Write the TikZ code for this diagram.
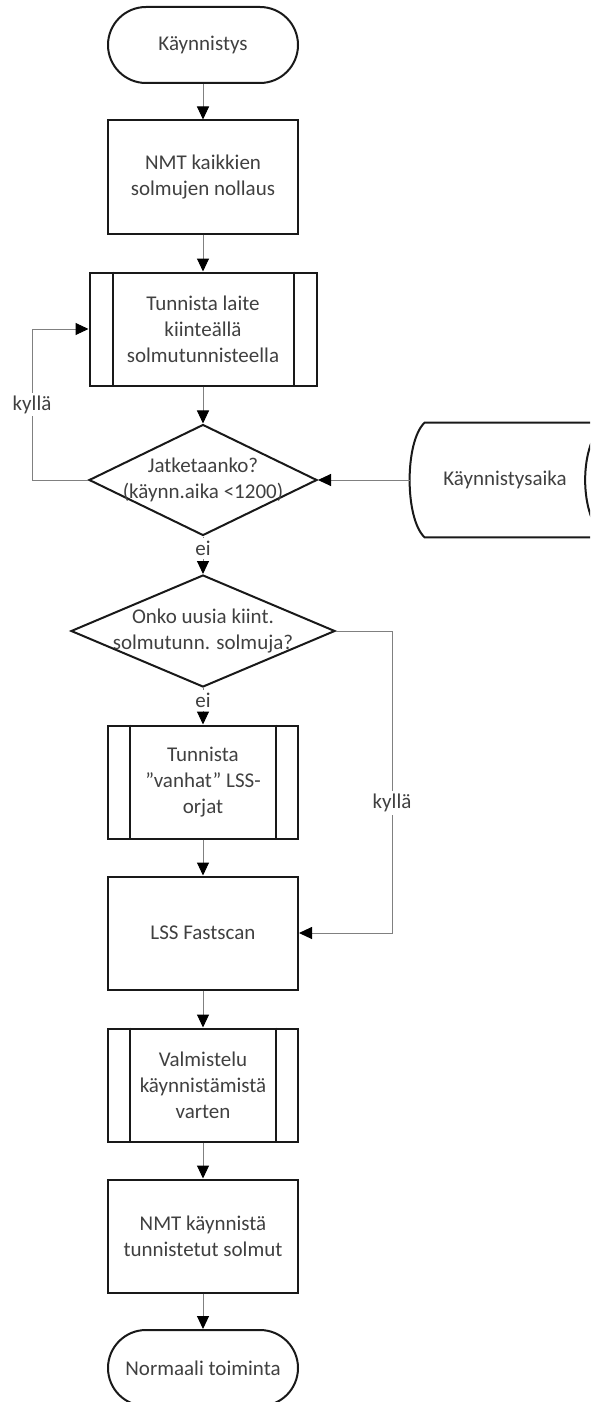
\documentclass[tikz,border=0pt]{standalone}
\usepackage{fontspec}
\setmainfont{Carlito}
\usetikzlibrary{shapes.geometric, arrows.meta, calc}
\definecolor{linegray}{rgb}{0.5,0.5,0.5}
\definecolor{textgray}{rgb}{0.25,0.25,0.25}

\tikzset{
  base/.style={draw=black!90, line width=1pt, align=center, inner sep=2pt},
  term/.style={base, rectangle, rounded corners=19pt, minimum width=95pt, minimum height=38pt},
  proc/.style={base, rectangle, minimum width=95pt, minimum height=56.5pt},
  subproc/.style={proc},
  decision/.style={base, diamond, inner sep=0pt},
  datastore/.style={rectangle, minimum width=95pt, minimum height=57pt, inner sep=0pt},
  flow/.style={draw=linegray, line width=0.5pt, -{Triangle[color=black, length=6.5pt, width=6pt]}},
  lbl/.style={fill=white, inner sep=1.5pt},
}

\begin{document}
\begin{tikzpicture}[x=0.5pt, y=-0.5pt,
    every node/.style={font=\fontsize{10.5}{13}\selectfont, text=textgray}]
  \useasboundingbox (0,0) rectangle (590,1402);
  \clip (0,0) rectangle (590,1402);

  % main column
  \node[term] (start) at (203,45) {Käynnistys};
  \node[proc] (box1) at (203,177) {NMT kaikkien\\solmujen nollaus};
  \node[subproc, minimum width=113.5pt] (box2) at (203,329) {Tunnista laite\\kiinteällä\\solmutunnisteella};
  \node[decision, minimum width=114pt, minimum height=55.5pt,
    label={[align=center]center:Jatketaanko?\\(käynn.aika <1200)}] (dec1) at (203,480) {};
  \node[datastore] (data) at (505,480) {Käynnistysaika};
  \node[decision, minimum width=132pt, minimum height=56pt,
    label={[align=center]center:Onko uusia kiint.\\solmutunn. solmuja?}] (dec2) at (203,631) {};
  \node[subproc] (box3) at (203,782) {Tunnista\\”vanhat” LSS-\\orjat};
  \node[proc] (box4) at (203,933) {LSS Fastscan};
  \node[subproc] (box5) at (203,1085) {Valmistelu\\käynnistämistä\\varten};
  \node[proc] (box6) at (203,1236) {NMT käynnistä\\tunnistetut solmut};
  \node[term] (stop) at (203,1368) {Normaali toiminta};

  % predefined process bars
  \foreach \n/\d in {box2/12pt, box3/11.5pt, box5/11.5pt}{
    \draw[line width=1pt, draw=black!90]
      ([xshift=\d]\n.north west) -- ([xshift=\d]\n.south west)
      ([xshift=-\d]\n.north east) -- ([xshift=-\d]\n.south east);
  }

  % stored data outline
  \draw[line width=1pt, draw=black!90]
    ($(data.north west)+(15,0)$) -- ($(data.north east)+(5,0)$)
    .. controls ($(data.north east)+(-22,19)$) and ($(data.south east)+(-22,-19)$) .. ($(data.south east)+(5,0)$)
    -- ($(data.south west)+(15,0)$)
    .. controls ($(data.south west)+(-5,-19)$) and ($(data.north west)+(-5,19)$) .. cycle;

  \coordinate (loopx) at (32,0);
  \coordinate (skipx) at (392,0);

  % connectors
  \draw[flow] (start) -- (box1);
  \draw[flow] (box1) -- (box2);
  \draw[flow] (box2) -- (dec1);
  \draw[flow] (data) -- (dec1);
  \draw[flow] (dec1.west) -- (dec1.west -| loopx) -- node[lbl]{kyllä} (box2.west -| loopx) -- (box2.west);
  \draw[flow] (dec1) -- node[lbl, pos=0.32]{ei} (dec2);
  \draw[flow] (dec2) -- node[lbl, pos=0.34]{ei} (box3);
  \draw[flow] (dec2.east) -- (dec2.east -| skipx) -- node[lbl, pos=0.57]{kyllä} (box4.east -| skipx) -- (box4.east);
  \draw[flow] (box3) -- (box4);
  \draw[flow] (box4) -- (box5);
  \draw[flow] (box5) -- (box6);
  \draw[flow] (box6) -- (stop);
\end{tikzpicture}
\end{document}
